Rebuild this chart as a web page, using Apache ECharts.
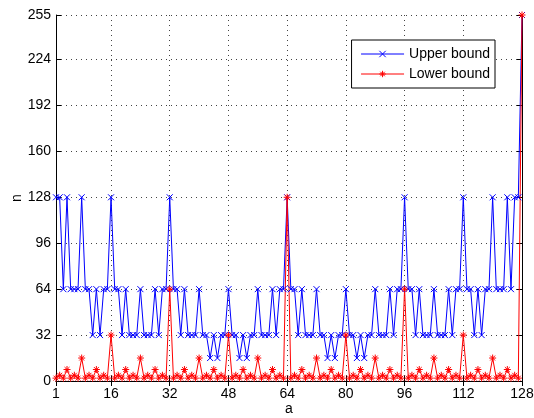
<!DOCTYPE html>
<html>
<head>
<meta charset="utf-8">
<script src="https://cdn.jsdelivr.net/npm/echarts@6/dist/echarts.min.js"></script>
<style>
  html, body { margin: 0; padding: 0; background: #fff; }
  #chart { width: 534px; height: 418px; }
</style>
</head>
<body>
<div id="chart"></div>
<script>
// values, a = 1..128
const upperBound = [
  128, 128, 64, 128, 64, 64, 64, 128, 64, 64, 32, 64, 32, 64, 64, 128,
  64, 64, 32, 64, 32, 32, 32, 64, 32, 32, 32, 64, 32, 64, 64, 128,
  64, 64, 32, 64, 32, 32, 32, 64, 32, 32, 16, 32, 16, 32, 32, 64,
  32, 32, 16, 32, 16, 32, 32, 64, 32, 32, 32, 64, 32, 64, 64, 128,
  64, 64, 32, 64, 32, 32, 32, 64, 32, 32, 16, 32, 16, 32, 32, 64,
  32, 32, 16, 32, 16, 32, 32, 64, 32, 32, 32, 64, 32, 64, 64, 128,
  64, 64, 32, 64, 32, 32, 32, 64, 32, 32, 32, 64, 32, 64, 64, 128,
  64, 64, 32, 64, 32, 64, 64, 128, 64, 64, 64, 128, 64, 128, 128, 255
]
const lowerBound = [
  2, 4, 2, 8, 2, 4, 2, 16, 2, 4, 2, 8, 2, 4, 2, 32,
  2, 4, 2, 8, 2, 4, 2, 16, 2, 4, 2, 8, 2, 4, 2, 64,
  2, 4, 2, 8, 2, 4, 2, 16, 2, 4, 2, 8, 2, 4, 2, 32,
  2, 4, 2, 8, 2, 4, 2, 16, 2, 4, 2, 8, 2, 4, 2, 128,
  2, 4, 2, 8, 2, 4, 2, 16, 2, 4, 2, 8, 2, 4, 2, 32,
  2, 4, 2, 8, 2, 4, 2, 16, 2, 4, 2, 8, 2, 4, 2, 64,
  2, 4, 2, 8, 2, 4, 2, 16, 2, 4, 2, 8, 2, 4, 2, 32,
  2, 4, 2, 8, 2, 4, 2, 16, 2, 4, 2, 8, 2, 4, 2, 255
]
const xTicks = [1, 16, 32, 48, 64, 80, 96, 112, 128]
const yTicks = [0, 32, 64, 96, 128, 160, 192, 224, 255]
const seriesNames = ['Upper bound', 'Lower bound']

const crossSymbol = 'path://M0,0L10,10M10,0L0,10'
const starSymbol = 'path://M5,0L5,10M0,5L10,5M1.5,1.5L8.5,8.5M8.5,1.5L1.5,8.5'
const font = 'Liberation Sans, Arial, sans-serif'

const toPoints = vals => vals.map((v, i) => [i + 1, v])

function axisBase(customValues, showLabels, margin) {
  return {
    axisLine: { show: true, lineStyle: { color: '#000', width: 1 } },
    axisTick: { show: true, inside: true, length: 5, customValues, lineStyle: { color: '#000' } },
    axisLabel: { show: showLabels, customValues, margin, color: '#000', fontSize: 14, fontFamily: font },
    splitLine: { show: false }
  }
}

const chart = echarts.init(document.getElementById('chart'))
chart.setOption({
  animation: false,
  backgroundColor: '#fff',
  grid: { left: 56, right: 12, top: 15, bottom: 37, outerBoundsMode: 'none', containLabel: false },
  legend: {
    orient: 'vertical', right: 39, top: 40,
    backgroundColor: '#fff', borderColor: '#000', borderWidth: 1,
    padding: [7, 5, 7, 9], itemGap: 6, itemWidth: 43, itemHeight: 8,
    textStyle: { color: '#000', fontSize: 14, fontFamily: font },
    itemStyle: { borderWidth: 1 },
    lineStyle: { width: 1 },
    data: seriesNames
  },
  xAxis: [
    Object.assign(axisBase(xTicks, true, 6), {
      type: 'value', min: 1, max: 128, position: 'bottom',
      name: 'a', nameLocation: 'middle', nameGap: 21, nameMoveOverlap: false,
      nameTextStyle: { color: '#000', fontSize: 14, fontFamily: font },
      splitLine: { show: true, lineStyle: { color: '#444', type: [1, 4], width: 1 } }
    }),
    Object.assign(axisBase(xTicks, false, 6), { type: 'value', min: 1, max: 128, position: 'top' })
  ],
  yAxis: [
    Object.assign(axisBase(yTicks, true, 5), {
      type: 'value', min: 0, max: 255, position: 'left',
      name: 'n', nameLocation: 'middle', nameGap: 32, nameRotate: 90, nameMoveOverlap: false,
      nameTextStyle: { color: '#000', fontSize: 14, fontFamily: font },
      splitLine: { show: true, lineStyle: { color: '#444', type: [1, 4], width: 1 } }
    }),
    Object.assign(axisBase(yTicks, false, 5), { type: 'value', min: 0, max: 255, position: 'right' })
  ],
  series: [
    {
      name: seriesNames[0], type: 'line', data: toPoints(upperBound),
      symbol: crossSymbol, symbolSize: 6, clip: false,
      lineStyle: { color: '#0000ff', width: 1 },
      itemStyle: { color: '#0000ff', borderColor: '#0000ff', borderWidth: 1 }
    },
    {
      name: seriesNames[1], type: 'line', data: toPoints(lowerBound),
      symbol: starSymbol, symbolSize: 7, clip: false,
      lineStyle: { color: '#ff0000', width: 1 },
      itemStyle: { color: '#ff0000', borderColor: '#ff0000', borderWidth: 1 }
    }
  ]
})
</script>
</body>
</html>
